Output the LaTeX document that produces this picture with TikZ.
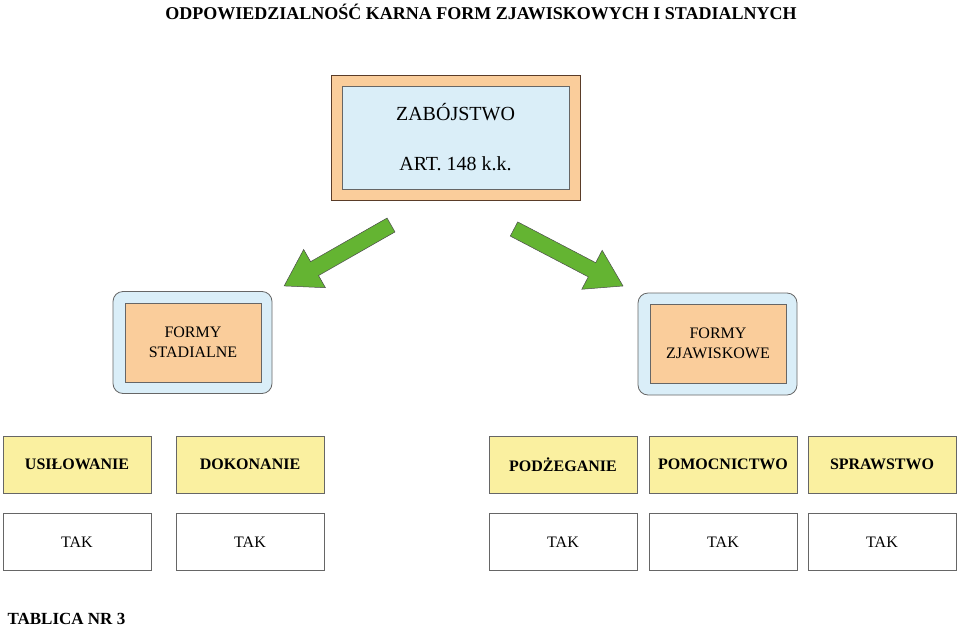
\documentclass[tikz,border=0pt]{standalone}
\usepackage{fontspec}
\setmainfont{Liberation Serif}
\definecolor{orng}{RGB}{250,205,155}
\definecolor{lblue}{RGB}{218,238,248}
\definecolor{ylw}{RGB}{250,240,160}
\definecolor{grn}{RGB}{100,180,50}
\definecolor{brd}{RGB}{90,60,40}
\begin{document}
\begin{tikzpicture}[x=1pt,y=-1pt,
  box/.style={draw=black!60,line width=0.8pt,minimum width=148pt,minimum height=57pt,inner sep=0pt,font=\fontsize{16}{18}\selectfont},
  hdr/.style={box,fill=ylw,font=\bfseries\fontsize{16}{18}\selectfont},
  ans/.style={box,fill=white},
  outerr/.style={draw=black!60,line width=0.8pt,fill=lblue,rounded corners=10pt,minimum width=159pt,minimum height=102pt},
  innerr/.style={draw=black!60,line width=0.6pt,fill=orng,minimum width=136pt,minimum height=79pt,align=center,font=\fontsize{16}{20}\selectfont},
  garrow/.style={fill=grn,draw=black!70,line width=0.5pt}]
\useasboundingbox (0,0) rectangle (960,629);
\node[font=\bfseries\fontsize{18}{20}\selectfont] (title) at (481,12) {ODPOWIEDZIALNOŚĆ KARNA FORM ZJAWISKOWYCH I STADIALNYCH};
\node[draw=brd,line width=1pt,fill=orng,minimum width=249pt,minimum height=125pt] (top) at (455.5,137.5) {};
\node[draw=black!60,line width=0.6pt,fill=lblue,minimum width=227pt,minimum height=103pt,align=center,font=\fontsize{20}{50}\selectfont] (topin) at (455.5,137.5) {ZABÓJSTWO\\ART. 148 k.k.};
\node[outerr] (lo) at (192.5,342.5) {};
\node[innerr] (li) at (193,342.5) {FORMY\\STADIALNE};
\node[outerr] (ro) at (717.5,344) {};
\node[innerr] (ri) at (718,343.5) {FORMY\\ZJAWISKOWE};
\begin{scope}[shift={(391,225)},rotate=209.7]
\fill[garrow] (0,-8) -- (88,-8) -- (88,-22) -- (123,0) -- (88,22) -- (88,8) -- (0,8) -- cycle;
\end{scope}
\begin{scope}[shift={(514,229)},rotate=-27.6]
\fill[garrow] (0,-8) -- (88,-8) -- (88,-22) -- (123,0) -- (88,22) -- (88,8) -- (0,8) -- cycle;
\end{scope}
\node[hdr] (h1) at (77,464.5) {USIŁOWANIE};
\node[hdr] (h2) at (250,464.5) {DOKONANIE};
\node[hdr] (h3) at (563,464.5) {PODŻEGANIE};
\node[hdr] (h4) at (723,464.5) {POMOCNICTWO};
\node[hdr] (h5) at (882,464.5) {SPRAWSTWO};
\node[ans] (a1) at (77,542) {TAK};
\node[ans] (a2) at (250,542) {TAK};
\node[ans] (a3) at (563,542) {TAK};
\node[ans] (a4) at (723,542) {TAK};
\node[ans] (a5) at (882,542) {TAK};
\node[anchor=west,font=\bfseries\fontsize{17}{19}\selectfont] (tab) at (4,619) {TABLICA NR 3};
\end{tikzpicture}
\end{document}
